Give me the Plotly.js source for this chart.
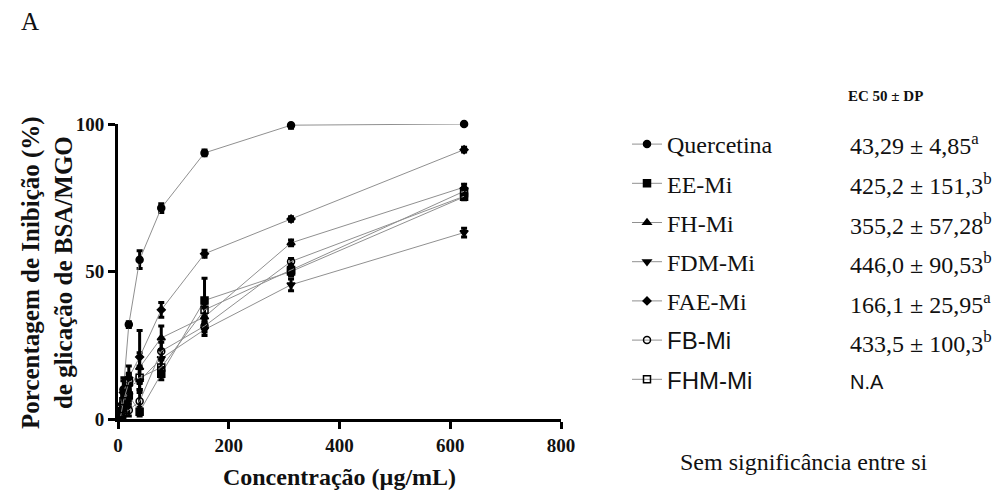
<!DOCTYPE html>
<html>
<head>
<meta charset="utf-8">
<script src="https://cdn.plot.ly/plotly-3.0.1.min.js"></script>
<style>html,body{margin:0;padding:0;background:#fff;}#chart{width:1000px;height:495px;}</style>
</head>
<body>
<div id="chart"></div>
<script>
// Concentrations (µg/mL)
var conc = [4.88, 9.77, 19.53, 39.06, 78.13, 156.25, 312.5, 625];

var names = ["Quercetina", "EE-Mi", "FH-Mi", "FDM-Mi", "FAE-Mi",
  "<span style=\"font-family:'Liberation Sans', Arial, sans-serif\">FB-Mi</span>",
  "<span style=\"font-family:'Liberation Sans', Arial, sans-serif\">FHM-Mi</span>"];

var quercetina = [3, 10, 32, 54, 71.5, 90.2, 99.6, 100];
var quercetinaErr = [2, 3, 1, 3, 1.5, 1, 1, 0.5];
var eeMi = [1.5, 4, 8, 2.5, 15.3, 40.2, 50.0, 75.3];
var eeMiErr = [1.5, 3, 4, 1.5, 2, 7.5, 1.5, 1];
var fhMi = [2, 6, 9, 17.5, 27.5, 34.6, 59.7, 78.6];
var fhMiErr = [1, 2, 3, 5, 4, 3, 1, 1];
var fdmMi = [1, 5, 11, 13, 20.5, 30.3, 45.5, 63.2];
var fdmMiErr = [1, 3, 4, 4, 3, 2, 2, 1.5];
var faeMi = [3, 9, 14, 21, 37, 56, 67.8, 91.3];
var faeMiErr = [2, 5, 4, 9, 2.5, 1.2, 0.8, 0.8];
var fbMi = [0.5, 2, 3, 6, 23, 31.5, 53.4, 75.5];
var fbMiErr = [0.5, 1.5, 2, 4, 3, 2, 1, 1];
var fhmMi = [1, 6, 12.5, 14, 17.5, 37, 50.5, 77.2];
var fhmMiErr = [1, 3, 3, 4, 3, 2, 1, 1];

var ec50 = ["43,29 ± 4,85<sup>a</sup>", "425,2 ± 151,3<sup>b</sup>", "355,2 ± 57,28<sup>b</sup>",
  "446,0 ± 90,53<sup>b</sup>", "166,1 ± 25,95<sup>a</sup>", "433,5 ± 100,3<sup>b</sup>",
  "<span style=\"font-family:'Liberation Sans', Arial, sans-serif; font-size:20px\">N.A</span>"];

var SERIF = "'Liberation Serif', 'Times New Roman', Times, serif";

var series = [quercetina, eeMi, fhMi, fdmMi, faeMi, fbMi, fhmMi];
var errs = [quercetinaErr, eeMiErr, fhMiErr, fdmMiErr, faeMiErr, fbMiErr, fhmMiErr];
var symbols = ["circle", "square", "triangle-up", "triangle-down", "diamond", "circle-open", "square-open"];
var sizes = [7, 7, 7, 7, 6, 7, 7];

var traces = series.map(function (s, i) {
  return {
    x: conc, y: s, name: names[i], type: "scatter", mode: "lines+markers",
    legendgroup: "g" + i,
    line: {color: "#909090", width: 1},
    marker: {symbol: symbols[i], size: sizes[i], color: "#000", line: {color: "#000", width: 1.5}},
    error_y: {type: "data", array: errs[i], visible: true, color: "#000", thickness: 3, width: 3},
    cliponaxis: false
  };
});

// pixel helpers for layout positioning (plot area: x 118..561, y 124..419)
function px(p) { return (p - 118) / 443; }
function py(p) { return (419 - p) / 295; }

var rowY = [144, 184, 224, 263, 303, 342, 382];
var annotations = [];
ec50.forEach(function (t, i) {
  annotations.push({xref: "paper", yref: "paper", x: px(848), y: py(rowY[i]), xanchor: "left", yanchor: "middle",
    text: t, showarrow: false, font: {family: SERIF, size: 24, color: "#111"}});
});
annotations.push({xref: "paper", yref: "paper", x: px(846), y: py(96), xanchor: "left", yanchor: "middle",
  text: "EC 50 ± DP", showarrow: false, font: {family: SERIF, size: 15, color: "#111", weight: "bold"}});
annotations.push({xref: "paper", yref: "paper", x: px(678), y: py(462), xanchor: "left", yanchor: "middle",
  text: "Sem significância entre si", showarrow: false, font: {family: SERIF, size: 24, color: "#111"}});
annotations.push({xref: "paper", yref: "paper", x: px(30), y: py(22), xanchor: "center", yanchor: "middle",
  text: "A", showarrow: false, font: {family: SERIF, size: 25, color: "#111"}});
annotations.push({xref: "paper", yref: "paper", x: px(47), y: py(273), xanchor: "center", yanchor: "middle",
  textangle: -90, text: "Porcentagem de Inibição (%)<br>de glicação de BSA/MGO", showarrow: false,
  font: {family: SERIF, size: 25, color: "#111", weight: "bold"}});

var layout = {
  width: 1000, height: 495,
  margin: {l: 118, r: 439, t: 124, b: 76},
  paper_bgcolor: "#fff", plot_bgcolor: "#fff",
  showlegend: true,
  legend: {x: px(627), y: py(122), xanchor: "left", yanchor: "top", maxheight: 1000,
    font: {family: SERIF, size: 24, color: "#111"},
    tracegroupgap: 5, itemsizing: "trace", bgcolor: "rgba(0,0,0,0)"},
  xaxis: {range: [0, 800], tickvals: [0, 200, 400, 600, 800], showgrid: false, zeroline: false,
    showline: true, linecolor: "#000", linewidth: 3, ticks: "outside", ticklen: 7, tickwidth: 3, tickcolor: "#000",
    tickfont: {family: SERIF, size: 19, color: "#111", weight: "bold"},
    title: {text: "Concentração (µg/mL)", standoff: 14,
      font: {family: SERIF, size: 24, color: "#111", weight: "bold"}}},
  yaxis: {range: [0, 100], tickvals: [0, 50, 100], showgrid: false, zeroline: false,
    showline: true, linecolor: "#000", linewidth: 3, ticks: "outside", ticklen: 7, tickwidth: 3, tickcolor: "#000",
    tickfont: {family: SERIF, size: 19, color: "#111", weight: "bold"}},
  annotations: annotations
};

Plotly.newPlot("chart", traces, layout, {displayModeBar: false, staticPlot: true});
</script>
</body>
</html>
